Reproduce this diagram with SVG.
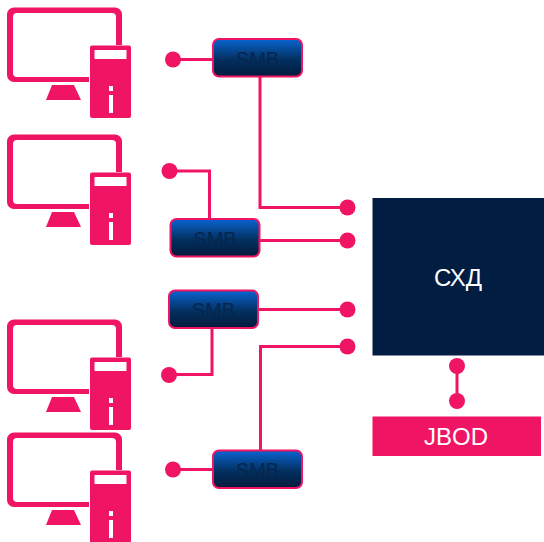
<svg xmlns="http://www.w3.org/2000/svg" width="544" height="542" viewBox="0 0 544 542">
<style>
.pink{fill:#f01464}
.smb{fill:url(#g);stroke:#f01464;stroke-width:2}
.smbt{font:20px "Liberation Sans",Arial,sans-serif;fill:#06264f;text-anchor:middle}
.big{font:24px "Liberation Sans",Arial,sans-serif;fill:#fff;text-anchor:middle}
.line{fill:none;stroke:#f01464;stroke-width:3}
</style>
<defs>
<linearGradient id="g" x1="0" y1="0" x2="0" y2="1">
<stop offset="0" stop-color="#0a64d2"/><stop offset="0.55" stop-color="#03305f"/><stop offset="1" stop-color="#011a3c"/>
</linearGradient>
<g id="pc">
<path class="pink" fill-rule="evenodd" d="M14 7.500H115a7 7 0 0 1 7 7V45H116V17a4 4 0 0 0-4-4H17a4 4 0 0 0-4 4V73a4 4 0 0 0 4 4H89V82H14a7 7 0 0 1-7-7V14.500a7 7 0 0 1 7-7Z"/>
<path class="pink" d="M52 85H74L81 100H46Z"/>
<path class="pink" fill-rule="evenodd" d="M92 45.500H129a2 2 0 0 1 2 2V116a2 2 0 0 1-2 2H92a2 2 0 0 1-2-2V47.500a2 2 0 0 1 2-2ZM94.500 50V59H126.500V50ZM109 86V91H113V86ZM109 95V113H113V95Z"/>
</g>
</defs>
<g id="pc1"><use href="#pc"/></g>
<g id="pc2"><use href="#pc" y="127"/></g>
<g id="pc3"><use href="#pc" y="312"/></g>
<g id="pc4"><use href="#pc" y="425"/></g>
<g id="connectors">
<path class="line" d="M173 59.500H213"/>
<path class="line" d="M260 77V207.500H347"/>
<path class="line" d="M170 171H209.500V219"/>
<path class="line" d="M260 240.500H347"/>
<path class="line" d="M258 309.500H347"/>
<path class="line" d="M212 328V374.500H169"/>
<path class="line" d="M260.500 450V346.500H347"/>
<path class="line" d="M173 469.500H213"/>
<path class="line" d="M457 366V401"/>
<g class="pink">
<circle cx="173" cy="59.500" r="8"/>
<circle cx="169.500" cy="171" r="8"/>
<circle cx="347.500" cy="207.500" r="8"/>
<circle cx="347.500" cy="240.500" r="8"/>
<circle cx="347.500" cy="309.500" r="8"/>
<circle cx="347.500" cy="346.500" r="8"/>
<circle cx="169" cy="375" r="8"/>
<circle cx="173" cy="469.500" r="8"/>
<circle cx="457" cy="366" r="8"/>
<circle cx="457" cy="401" r="8"/>
</g>
</g>
<g id="smb1"><rect class="smb" x="213" y="39" width="89" height="37.500" rx="6"/><text class="smbt" x="257.500" y="66">SMB</text></g>
<g id="smb2"><rect class="smb" x="170.500" y="219" width="89" height="37.500" rx="6"/><text class="smbt" x="215" y="246">SMB</text></g>
<g id="smb3"><rect class="smb" x="169" y="290.500" width="89" height="37.500" rx="6"/><text class="smbt" x="213.500" y="317">SMB</text></g>
<g id="smb4"><rect class="smb" x="213" y="450.500" width="89" height="37.500" rx="6"/><text class="smbt" x="257.500" y="477">SMB</text></g>
<g id="storage"><rect x="372.500" y="198" width="171.500" height="157.500" fill="#021d42"/><text class="big" x="458" y="286">СХД</text></g>
<g id="jbod"><rect x="372.500" y="416.500" width="168.500" height="39.500" fill="#f01464"/><text class="big" x="456" y="445">JBOD</text></g>
</svg>
